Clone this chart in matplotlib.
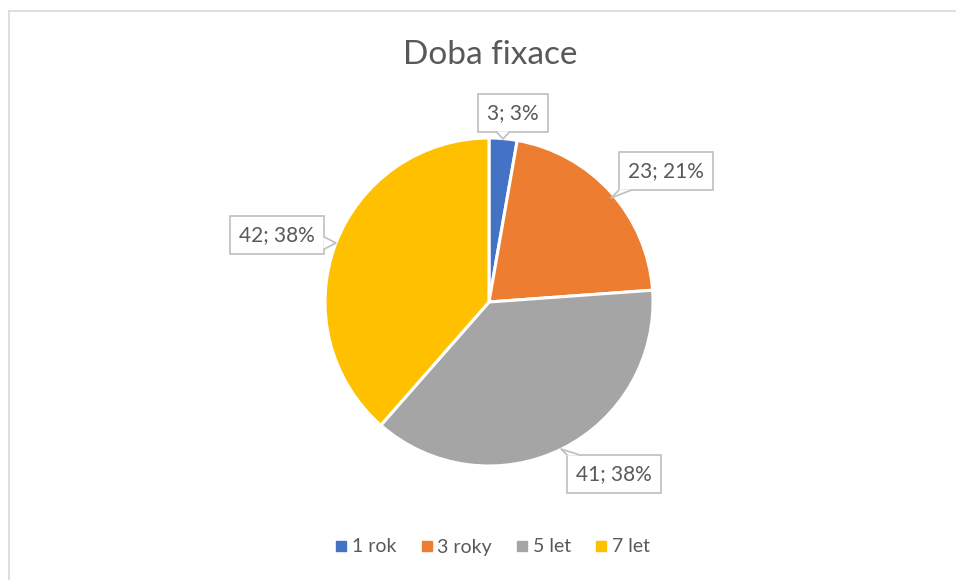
import matplotlib.pyplot as plt
from matplotlib.lines import Line2D
from matplotlib.patches import Polygon

# data
labels = ['1 rok', '3 roky', '5 let', '7 let']
values = [3, 23, 41, 42]
pcts = [3, 21, 38, 38]   # as shown on the chart
colors = ['#4472C4', '#ED7D31', '#A5A5A5', '#FFC000']

W, H = 956, 580
cx, cy, r = 489, 302, 164

# label box centres and callout tips, in pixels of the picture
label_px = [(513, 113), (666, 171), (614, 474), (277, 235)]
tip_px = [(503, 139), (611, 198), (561, 449), (336, 243)]

plt.rcParams['font.family'] = ['Lato', 'DejaVu Sans']
text_col = '#595959'
line_col = '#bfbfbf'

fig = plt.figure(figsize=(W / 100, H / 100), dpi=100)

# chart area frame (partly cropped)
fig.add_artist(Line2D([9 / W, 1], [1 - 11 / H, 1 - 11 / H], color='#d9d9d9', lw=1.2))
fig.add_artist(Line2D([9 / W, 9 / W], [0, 1 - 11 / H], color='#d9d9d9', lw=1.2))

ax = fig.add_axes([(cx - r) / W, 1 - (cy + r) / H, 2 * r / W, 2 * r / H])
ax.pie(values, colors=colors, startangle=90, counterclock=False,
       wedgeprops=dict(edgecolor='white', linewidth=2.2))
ax.set_xlim(-1, 1)
ax.set_ylim(-1, 1)
ax.axis('off')

texts = []
for v, p, (lx, ly) in zip(values, pcts, label_px):
    t = fig.text(lx / W, 1 - ly / H, f"{v}; {p}%", ha='center', va='center',
                 fontsize=15, color=text_col, zorder=5,
                 bbox=dict(boxstyle='square,pad=0.45', fc='white', ec=line_col, lw=1.2))
    texts.append(t)

fig.text(490 / W, 1 - 55 / H, 'Doba fixace', ha='center', va='center',
         fontsize=24, color=text_col)

handles = [Line2D([], [], marker='s', ls='', color=c, markersize=7) for c in colors]
fig.legend(handles, labels, loc='center', bbox_to_anchor=(492 / W, 1 - 547 / H),
           ncol=4, frameon=False, fontsize=14, labelcolor=text_col,
           handletextpad=0.2, columnspacing=1.2, handlelength=0.7)

# callout notches
fig.canvas.draw()
inv = fig.transFigure.inverted()
for t, (tx, ty) in zip(texts, tip_px):
    bb = t.get_bbox_patch().get_window_extent()
    tyd = H - ty
    half = 6
    if tyd < bb.y0 or tyd > bb.y1:
        ey = bb.y0 if tyd < bb.y0 else bb.y1
        mx = min(max(tx, bb.x0 + half), bb.x1 - half)
        a, b = (mx - half, ey), (mx + half, ey)
        inner = 1.0 if ey == bb.y0 else -1.0
        a_in, b_in = (a[0], ey + inner), (b[0], ey + inner)
    else:
        ex = bb.x0 if tx < bb.x0 else bb.x1
        my = min(max(tyd, bb.y0 + half), bb.y1 - half)
        a, b = (ex, my - half), (ex, my + half)
        inner = 1.0 if ex == bb.x0 else -1.0
        a_in, b_in = (ex + inner, a[1]), (ex + inner, b[1])
    pts = inv.transform([a_in, a, (tx, tyd), b, b_in])
    fig.add_artist(Polygon(pts, closed=True, fc='white', ec='none', zorder=6))
    side = inv.transform([a, (tx, tyd), b])
    fig.add_artist(Line2D(side[:, 0], side[:, 1], color=line_col, lw=1.2, zorder=7))

fig.savefig('out.png', dpi=100, facecolor='white')
